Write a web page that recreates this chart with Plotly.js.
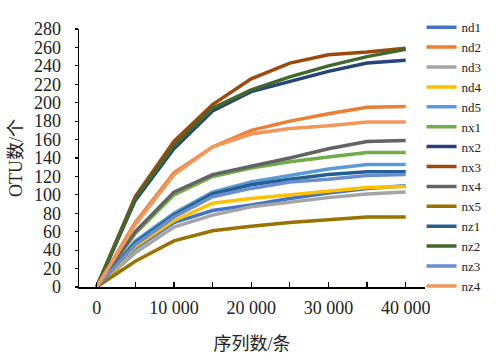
<!DOCTYPE html>
<html>
<head>
<meta charset="utf-8">
<script src="https://cdn.plot.ly/plotly-3.0.1.min.js"></script>
<style>html,body{margin:0;padding:0;background:#fff;}#chart{width:499px;height:358px;}</style>
</head>
<body>
<div id="chart"></div>
<script>
const seqCounts = [0, 5000, 10000, 15000, 20000, 25000, 30000, 35000, 40000];
const seriesNames = ["nd1","nd2","nd3","nd4","nd5","nx1","nx2","nx3","nx4","nx5","nz1","nz2","nz3","nz4"];
const nd1 = [0, 42, 70, 83, 89, 96, 102, 107, 110];
const nd2 = [0, 70, 124, 152, 170, 180, 188, 195, 196];
const nd3 = [0, 37, 65, 78, 87, 92, 97, 101, 103];
const nd4 = [0, 44, 72, 91, 96, 100, 104, 108, 109];
const nd5 = [0, 50, 80, 103, 114, 121, 128, 133, 133];
const nx1 = [0, 58, 100, 120, 129, 136, 141, 146, 146];
const nx2 = [0, 94, 150, 191, 212, 223, 234, 243, 246];
const nx3 = [0, 98, 158, 198, 226, 243, 252, 255, 259];
const nx4 = [0, 60, 103, 122, 131, 140, 150, 158, 159];
const nx5 = [0, 28, 50, 61, 66, 70, 73, 76, 76];
const nz1 = [0, 48, 78, 101, 111, 117, 122, 125, 125];
const nz2 = [0, 96, 153, 194, 214, 228, 240, 250, 258];
const nz3 = [0, 46, 76, 98, 107, 114, 117, 121, 122];
const nz4 = [0, 68, 122, 152, 166, 172, 175, 179, 179];
const seriesValues = [nd1, nd2, nd3, nd4, nd5, nx1, nx2, nx3, nx4, nx5, nz1, nz2, nz3, nz4];
const xTickVals = [0, 5000, 10000, 15000, 20000, 25000, 30000, 35000, 40000, 42500];
const xTickText = ["0", "", "10 000", "", "20 000", "", "30 000", "", "40 000", ""];
const yTickVals = [0, 20, 40, 60, 80, 100, 120, 140, 160, 180, 200, 220, 240, 260, 280];

const colors = ["#4472C4","#ED7D31","#A5A5A5","#FFC000","#5B9BD5","#70AD47","#264478","#9E480E","#636363","#997300","#255E91","#43682B","#698ED0","#F1975A"];
const serif = "Liberation Serif, Times New Roman, Noto Sans CJK SC, serif";

const traces = seriesNames.map((n, i) => ({
  x: seqCounts, y: seriesValues[i], name: n, type: "scatter", mode: "lines",
  line: {color: colors[i], width: 3.5}
}));

const layout = {
  width: 499, height: 358,
  margin: {l: 79, r: 67, t: 12, b: 71},
  paper_bgcolor: "#fff", plot_bgcolor: "#fff",
  showlegend: true,
  legend: {x: 0.99, xanchor: "left", y: 1.065, yanchor: "top", font: {family: serif, size: 13, color: "#222"},
           bgcolor: "rgba(0,0,0,0)", tracegroupgap: 0, itemwidth: 30, maxheight: 1},
  xaxis: {
    range: [-2285, 42500], tickmode: "array", tickvals: xTickVals, ticktext: xTickText,
    ticks: "inside", ticklen: 5, tickcolor: "#000", tickwidth: 1.2,
    showline: true, linecolor: "#000", linewidth: 1.5, showgrid: false, zeroline: false,
    tickfont: {family: serif, size: 18, color: "#222"}, ticklabelstandoff: 4,
    title: {text: "序列数/条", font: {family: serif, size: 18, color: "#222"}, standoff: 20}
  },
  yaxis: {
    range: [0, 280], tickmode: "array", tickvals: yTickVals,
    ticks: "outside", ticklen: 3, tickcolor: "#000", tickwidth: 1.2,
    showline: true, linecolor: "#000", linewidth: 1.5, showgrid: false, zeroline: false,
    tickfont: {family: serif, size: 18, color: "#222"}, ticklabelstandoff: 10,
    title: {text: "OTU数/个", font: {family: serif, size: 18, color: "#222"}, standoff: 6}
  }
};
Plotly.newPlot("chart", traces, layout, {displayModeBar: false, staticPlot: true});
</script>
</body>
</html>
